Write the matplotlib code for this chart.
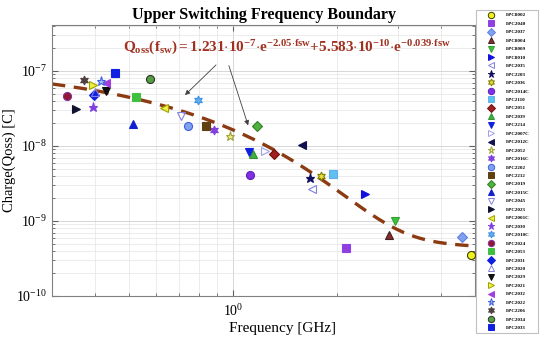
import numpy as np
import matplotlib
matplotlib.use("Agg")
import matplotlib.pyplot as plt
from matplotlib.lines import Line2D
from matplotlib.patches import Rectangle, FancyArrowPatch

# ---------------- data ----------------
devices = ["EPC8002", "EPC2040", "EPC2037", "EPC8004", "EPC8009", "EPC8010", "EPC2035",
           "EPC2203", "EPC2036", "EPC2014C", "EPC2110", "EPC2051", "EPC2039", "EPC2214",
           "EPC2007C", "EPC2012C", "EPC2052", "EPC2016C", "EPC2202", "EPC2212", "EPC2019",
           "EPC2015C", "EPC2045", "EPC2023", "EPC2001C", "EPC2030", "EPC2010C", "EPC2024",
           "EPC2053", "EPC2031", "EPC2020", "EPC2029", "EPC2021", "EPC2032", "EPC2022",
           "EPC2206", "EPC2034", "EPC2033"]
freq_ghz = [4.87, 2.12, 4.59, 2.83, 2.94, 2.40, 1.69,
            1.67, 1.79, 1.117, 1.94, 1.31, 1.14, 1.11,
            1.24, 1.58, 0.978, 0.882, 0.743, 0.834, 1.175,
            0.513, 0.707, 0.352, 0.633, 0.394, 0.793, 0.332,
            0.524, 0.396, 0.40, 0.431, 0.394, 0.431, 0.416,
            0.370, 0.575, 0.456]
qoss_c = [3.49e-10, 4.32e-10, 6.18e-10, 6.51e-10, 1.01e-9, 2.27e-9, 2.65e-9,
          3.71e-9, 4.02e-9, 4.1e-9, 4.2e-9, 7.82e-9, 7.8e-9, 8.4e-9,
          8.66e-9, 1.03e-8, 1.36e-8, 1.63e-8, 1.85e-8, 1.85e-8, 1.87e-8,
          1.97e-8, 2.54e-8, 3.08e-8, 3.18e-8, 3.28e-8, 4.1e-8, 4.64e-8,
          4.54e-8, 4.79e-8, 5.2e-8, 5.46e-8, 6.5e-8, 6.85e-8, 7.36e-8,
          7.59e-8, 7.82e-8, 9.31e-8]

# fit: Q = a1*exp(b1*f) + a2*exp(b2*f)
fit_a = [1.231e-7, 5.583e-10]
fit_b = [-2.05, -0.039]
fit_f_range = [0.3, 5.0]

x_ticks = [1.0]
x_ticklabels = [r"$10^{0}$"]
y_ticks = [1e-10, 1e-9, 1e-8, 1e-7]
y_ticklabels = [r"$10^{-10}$", r"$10^{-9}$", r"$10^{-8}$", r"$10^{-7}$"]

# ---------------- styles ----------------
HEX = (6, 1, 0)
styles = [
    ("o", "#f0f020", "#404000"), ("s", "#9040e0", "#9040e0"), ("D", "#80a0f0", "#6080e0"),
    ("^", "#8b2a2a", "#402020"), ("v", "#40c040", "#30a030"), (">", "#1010e0", "#1010e0"),
    ("<", "none", "#8080e0"), ("*", "#101060", "#101060"), (HEX, "#e8e040", "#808000"),
    ("o", "#8030e0", "#6020c0"), ("s", "#60c0f0", "#60b0f0"), ("D", "#a02020", "#701010"),
    ("^", "#40b040", "#309030"), ("v", "#1020e0", "#1020e0"), (">", "none", "#a0a0f0"),
    ("<", "#101050", "#101050"), ("*", "#f0f080", "#a0a040"), (HEX, "#8040e0", "#8040e0"),
    ("o", "#80a0f0", "#4060e0"), ("s", "#604010", "#604010"), ("D", "#50b040", "#308020"),
    ("^", "#1020d0", "#1020d0"), ("v", "none", "#8080e0"), (">", "#101030", "#101030"),
    ("<", "#f0f040", "#a0a000"), ("*", "#8040e0", "#8040e0"), (HEX, "#60b0f0", "#4090e0"),
    ("o", "#901830", "#8030a0"), ("s", "#40c040", "#40c040"), ("D", "#1020e0", "#1020e0"),
    ("^", "none", "#8080e0"), ("v", "#101010", "#101010"), (">", "#f0f040", "#a0a000"),
    ("<", "#a040e0", "#a040e0"), ("*", "#a0c0f0", "#4060e0"), (HEX, "#504040", "#504040"),
    ("o", "#50a040", "#303030"), ("s", "#1020e0", "#1020e0"),
]
size_scale = {"D": 0.9, "s": 0.9, "*": 1.15}

plt.rcParams["font.family"] = ["Liberation Serif", "DejaVu Serif"]
plt.rcParams["mathtext.fontset"] = "custom"
plt.rcParams["mathtext.rm"] = "Liberation Serif"
plt.rcParams["mathtext.it"] = "Liberation Serif:italic"
plt.rcParams["mathtext.bf"] = "Liberation Serif:bold"

W, H = 550, 344
fig = plt.figure(figsize=(5.5, 3.44), dpi=100)
ax = fig.add_axes([52 / W, 1 - 296 / H, 423 / W, 271 / H])

ax.set_xscale("log")
ax.set_yscale("log")
ax.set_xlim(0.3, 5.0)
ax.set_ylim(1e-10, 4.1e-7)

# grid
ax.grid(True, which="major", color="#d0d0d0", linewidth=0.6)
ax.grid(True, which="minor", color="#e4e4e4", linewidth=0.5)
ax.set_axisbelow(True)

# fit curve
ff = np.logspace(np.log10(fit_f_range[0]), np.log10(fit_f_range[1]), 300)
qq = fit_a[0] * np.exp(fit_b[0] * ff) + fit_a[1] * np.exp(fit_b[1] * ff)
ax.plot(ff, qq, color="#8B3A12", linewidth=2.4, dashes=(4, 2.6), zorder=2)

handles = []
for name, f, q, (m, fc, ec) in zip(devices, freq_ghz, qoss_c, styles):
    sc = size_scale.get(m, 1.0) if isinstance(m, str) else 1.1
    ax.plot([f], [q], linestyle="none", marker=m, markersize=5.8 * sc,
            markerfacecolor=fc, markeredgecolor=ec, markeredgewidth=0.8, zorder=3)
    handles.append(Line2D([], [], linestyle="none", marker=m, markersize=4.6 * sc,
                          markerfacecolor=fc, markeredgecolor=ec, markeredgewidth=0.7,
                          label=name))

ax.set_xticks(x_ticks)
ax.set_xticklabels(x_ticklabels, fontsize=10)
ax.set_yticks(y_ticks)
ax.set_yticklabels(y_ticklabels, fontsize=10)
ax.xaxis.set_minor_formatter(matplotlib.ticker.NullFormatter())
ax.tick_params(which="both", direction="in", top=True, right=True, color="#606060")
ax.tick_params(which="major", length=4)
ax.tick_params(which="minor", length=2.5)
ax.tick_params(axis="x", pad=5)
for s in ax.spines.values():
    s.set_color("#808080")
    s.set_linewidth(0.8)

ax.set_xlabel("Frequency [GHz]", fontsize=11)
ax.xaxis.set_label_coords(0.544, -0.095)
ax.set_ylabel("Charge(Qoss) [C]", fontsize=10.5, labelpad=0)
ax.set_title("Upper Switching Frequency Boundary", fontsize=11.5, fontweight="bold", pad=4)

# formula annotation
formula = (r"$\mathbf{Q_{oss}(f_{sw}){=}1.231{\cdot}10^{-7}{\cdot}e^{-2.05{\cdot}fsw}"
           r"{+}5.583{\cdot}10^{-10}{\cdot}e^{-0.039{\cdot}fsw}}$")
fig.text(123 / W, 1 - 52 / H, formula, color="#a03020", fontsize=11,
         ha="left", va="baseline")

arrowprops = dict(arrowstyle="-|>", color="#404040", lw=0.6, mutation_scale=7)
fig.add_artist(FancyArrowPatch((218 / W, 1 - 63 / H), (183 / W, 1 - 97 / H),
                               transform=fig.transFigure, **arrowprops))
fig.add_artist(FancyArrowPatch((228 / W, 1 - 63 / H), (249 / W, 1 - 128 / H),
                               transform=fig.transFigure, **arrowprops))

# legend with manually drawn frame
fig.add_artist(Rectangle((476 / W, 1 - 333 / H), 62 / W, 323 / H, transform=fig.transFigure,
                         facecolor="white", edgecolor="#c0c0c0", linewidth=0.8, zorder=0.5))
leg = fig.legend(handles=handles, loc="upper left", bbox_to_anchor=(479 / W, 1 - 13 / H),
                 fontsize=3.6, frameon=False,
                 labelspacing=0.79, handletextpad=0.7, borderpad=0.0, handlelength=4.7,
                 borderaxespad=0)
for t in leg.get_texts():
    t.set_fontweight("bold")

fig.savefig("out.png", dpi=100)
